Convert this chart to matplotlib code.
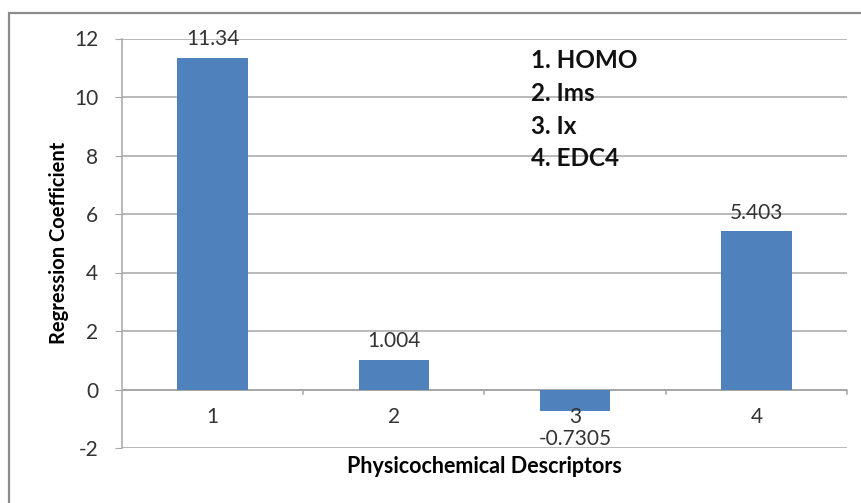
import matplotlib.pyplot as plt
from matplotlib.patches import Rectangle

categories = ["1", "2", "3", "4"]
coefficients = [11.34, 1.004, -0.7305, 5.403]
value_labels = ["11.34", "1.004", "-0.7305", "5.403"]
descriptor_names = ["1. HOMO", "2. Ims", "3. Ix", "4. EDC4"]
y_ticks = [-2, 0, 2, 4, 6, 8, 10, 12]

plt.rcParams['font.family'] = ['Lato', 'DejaVu Sans']

W, H = 861, 503
fig = plt.figure(figsize=(W / 100, H / 100), dpi=100)
fig.patch.set_facecolor('white')

# outer chart frame
fig.add_artist(Rectangle((9 / W, -0.1), 1.2, 1 - 13 / H + 0.1, transform=fig.transFigure,
                         fill=False, edgecolor='#8c8c8c', linewidth=1.6))

left, right, top, bottom = 122, 847, 38.5, 448
ax = fig.add_axes([left / W, 1 - bottom / H, (right - left) / W, (bottom - top) / H])

x = list(range(len(categories)))
bar_color = '#4F81BD'
ax.bar(x, coefficients, width=0.39, color=bar_color, zorder=3)

ax.set_xlim(-0.5, len(categories) - 0.5)
ax.set_ylim(-2, 12)
ax.set_yticks(y_ticks)
ax.set_yticklabels([str(t) for t in y_ticks], fontsize=15, color='#333333')
ax.grid(axis='y', color='#a6a6a6', linewidth=1.1, zorder=0)
ax.set_axisbelow(True)

for s in ['top', 'right', 'bottom']:
    ax.spines[s].set_visible(False)
ax.spines['left'].set_color('#a6a6a6')
ax.spines['left'].set_linewidth(1.1)
ax.tick_params(axis='y', length=5, color='#a6a6a6', pad=12)

# horizontal category axis at zero with ticks between categories
ax.axhline(0, color='#a6a6a6', linewidth=1.3, zorder=2)
ax.set_xticks([])
for b in [0.5, 1.5, 2.5, 3.5]:
    ax.plot([b, b], [0, -0.15], color='#a6a6a6', linewidth=1.1, zorder=2, clip_on=False)
for xi, c in zip(x, categories):
    ax.text(xi, -0.6, c, ha='center', va='top', fontsize=15, color='#333333')

# value labels
for xi, v, lab in zip(x, coefficients, value_labels):
    if v >= 0:
        ax.text(xi, v + 0.3, lab, ha='center', va='bottom', fontsize=15, color='#333333')
    else:
        ax.text(xi, v - 0.62, lab, ha='center', va='top', fontsize=15, color='#333333')

ax.set_ylabel('Regression Coefficient', fontsize=14.5, fontweight='bold', labelpad=4)
ax.set_xlabel('Physicochemical Descriptors', fontsize=15.5, fontweight='bold', labelpad=6)

# descriptor key
for i, name in enumerate(descriptor_names):
    fig.text(531 / W, 1 - (61 + i * 32.5) / H, name, ha='left', va='center',
             fontsize=17.5, fontweight='bold', color='#111111')

fig.savefig('out.png', dpi=100)
